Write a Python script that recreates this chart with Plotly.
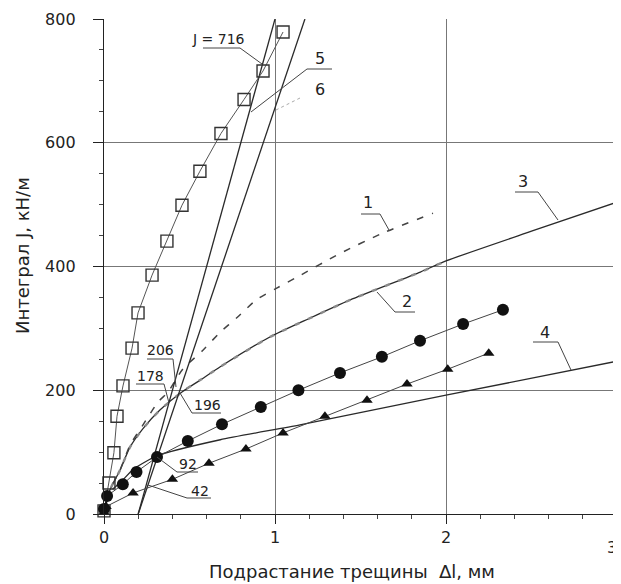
import plotly.graph_objects as go

# ---- data ----
sq_x = [0.0, 0.029, 0.058, 0.076, 0.111, 0.164, 0.199, 0.281, 0.368, 0.456, 0.561, 0.684, 0.819, 0.930, 1.047]
sq_y = [5, 50, 99, 158, 207, 268, 325, 386, 441, 499, 554, 615, 670, 716, 779]

ci_x = [0.0, 0.018, 0.11, 0.19, 0.31, 0.49, 0.69, 0.917, 1.137, 1.38, 1.625, 1.848, 2.10, 2.333]
ci_y = [8, 29, 48, 68, 92, 118, 145, 173, 200, 228, 254, 280, 307, 330]

tr_x = [0.0, 0.012, 0.17, 0.40, 0.614, 0.83, 1.047, 1.292, 1.538, 1.772, 2.01, 2.25]
tr_y = [3, 12, 34, 56, 82, 105, 131, 158, 184, 210, 234, 260]

c1_x = [0.0, 0.035, 0.094, 0.152, 0.228, 0.316, 0.374, 0.46, 0.58, 0.68, 0.78, 0.89, 1.01, 1.13, 1.38, 1.63, 1.924]
c1_y = [0, 39, 71, 111, 144, 181, 197, 234, 265, 294, 318, 346, 365, 383, 421, 454, 486]

c3_x = [0.0, 0.035, 0.094, 0.152, 0.228, 0.327, 0.46, 0.56, 0.68, 0.97, 1.2, 1.44, 1.85, 2.0, 2.5, 3.0]
c3_y = [0, 39, 71, 108, 138, 168, 198, 216, 238, 286, 316, 346, 391, 409, 457, 504]

c2_x = c3_x[:14]
c2_y = c3_y[:14]

c4_x = [0.05, 0.10, 0.17, 0.31, 0.68, 1.146, 2.0, 3.0]
c4_y = [40, 52, 72, 94, 120, 144, 192, 247]

l5_x = [0.2, 1.0]
l5_y = [0, 800]
l6_x = [0.2, 1.175]
l6_y = [0, 800]

x_ticks = [0, 1, 2, 3]
y_ticks = [0, 200, 400, 600, 800]

# ---- figure ----
# the html page has an 8px body margin, so the figure starts at (8, 8)
OFF = 8
W, H = 613, 576
ML, MR, MT, MB = 96, 4, 11, 70
X0, X1 = OFF + ML, OFF + W - MR      # absolute px of x=0 and x=3
YT, YB = OFF + MT, OFF + H - MB      # absolute px of y=800 and y=0
fig = go.Figure()

def P(px, py):
    """absolute pixel position -> data coords (label placement only)"""
    return (px - X0) / (X1 - X0) * 3.0, (YB - py) / (YB - YT) * 800.0

def Q(px, py):
    """absolute pixel position -> paper coords (label placement only)"""
    return (px - X0) / (X1 - X0), (YB - py) / (YB - YT)

ink = "#2a2a2a"
spl = dict(shape="spline", smoothing=0.6)

fig.add_trace(go.Scatter(x=c3_x, y=c3_y, mode="lines", line=dict(color=ink, width=1.3, **spl), hoverinfo="skip"))
fig.add_trace(go.Scatter(x=c2_x, y=c2_y, mode="lines", line=dict(color="#8a8a8a", width=2.4, dash="5px,9px", **spl), hoverinfo="skip"))
fig.add_trace(go.Scatter(x=c1_x, y=c1_y, mode="lines", line=dict(color="#444", width=1.5, dash="7px,9px", **spl), hoverinfo="skip"))
fig.add_trace(go.Scatter(x=c4_x, y=c4_y, mode="lines", line=dict(color=ink, width=1.3, **spl), hoverinfo="skip"))
fig.add_trace(go.Scatter(x=l5_x, y=l5_y, mode="lines", line=dict(color=ink, width=1.3), hoverinfo="skip"))
fig.add_trace(go.Scatter(x=l6_x, y=l6_y, mode="lines", line=dict(color=ink, width=1.3), hoverinfo="skip"))

fig.add_trace(go.Scatter(x=sq_x, y=sq_y, mode="lines+markers", cliponaxis=False,
                         line=dict(color="#555", width=1),
                         marker=dict(symbol="square-open", size=12, color="#333", line=dict(width=1.4))))
fig.add_trace(go.Scatter(x=ci_x, y=ci_y, mode="lines+markers", cliponaxis=False,
                         line=dict(color="#444", width=1),
                         marker=dict(symbol="circle", size=12, color="#111")))
fig.add_trace(go.Scatter(x=tr_x, y=tr_y, mode="lines+markers", cliponaxis=False,
                         line=dict(color="#444", width=1),
                         marker=dict(symbol="triangle-up", size=10, color="#111")))

FONT = "DejaVu Sans, Verdana, sans-serif"

# ---- labels with leader lines (absolute px positions) ----
labels = [
    ("J = 716", (218, 39), [(203, 48), (240, 48), (262, 64)], 14),
    ("5", (320, 58), [(332, 69), (307, 69), (251, 112)], 16),
    ("6", (320, 89), [], 16),
    ("1", (368, 202), [(361, 214), (380, 214), (389, 230)], 16),
    ("3", (523, 181), [(515, 192), (538, 192), (558, 220)], 16),
    ("2", (407, 301), [(415, 312), (395, 312), (377, 292)], 16),
    ("4", (545, 332), [(533, 342), (558, 342), (571, 370)], 16),
    ("206", (160, 350), [(147, 359), (173, 359), (176, 387)], 14),
    ("178", (150, 376), [(136, 384), (164, 384), (169, 403)], 14),
    ("196", (207, 405), [(221, 413), (192, 413), (180, 393)], 14),
    ("92", (188, 464), [(198, 472), (177, 472), (157, 457)], 14),
    ("42", (200, 491), [(211, 498), (187, 498), (148, 485)], 14),
]
for txt, (tx, ty), poly, fs in labels:
    ax_, ay_ = P(tx, ty)
    fig.add_annotation(x=ax_, y=ay_, text=txt, showarrow=False, xanchor="center", yanchor="middle",
                       font=dict(family=FONT, size=fs, color="#222"))
    if poly:
        pts = [P(a, b) for a, b in poly]
        path = "M " + " L ".join(f"{x:.4f},{y:.2f}" for x, y in pts)
        fig.add_shape(type="path", path=path, xref="x", yref="y", line=dict(color="#444", width=1))

# faint leader for 6
x1, y1 = P(300, 98)
x2, y2 = P(276, 110)
fig.add_shape(type="line", x0=x1, y0=y1, x1=x2, y1=y2, xref="x", yref="y",
              line=dict(color="#aaa", width=1, dash="dot"))

# axis titles
tx, ty = Q(352, 571)
fig.add_annotation(xref="paper", yref="paper", x=tx, y=ty, text="Подрастание трещины  \u2206l, мм",
                   showarrow=False, xanchor="center", yanchor="middle",
                   font=dict(family=FONT, size=18, color="#222"))
tx, ty = Q(22, 256)
fig.add_annotation(xref="paper", yref="paper", x=tx, y=ty, text="Интеграл J, кН/м", textangle=-90,
                   showarrow=False, xanchor="center", yanchor="middle",
                   font=dict(family=FONT, size=18, color="#222"))
# last x tick label, placed at the right edge (plotly hides it past the div)
tx, ty = Q(619, 547)
fig.add_annotation(xref="paper", yref="paper", x=tx, y=ty, text=str(x_ticks[-1]),
                   showarrow=False, xanchor="right", yanchor="middle",
                   font=dict(family=FONT, size=16, color="#222"))

fig.update_layout(
    width=W, height=H,
    margin=dict(l=ML, r=MR, t=MT, b=MB),
    paper_bgcolor="white", plot_bgcolor="white",
    showlegend=False,
    font=dict(family=FONT, size=16, color="#222"),
    xaxis=dict(range=[0, 3], tickvals=x_ticks[:-1], ticktext=[str(v) for v in x_ticks[:-1]],
               showgrid=True, gridcolor="#777", gridwidth=1,
               showline=True, linecolor="#222", linewidth=1.4, zeroline=False,
               ticks="outside", ticklen=9, tickcolor="#222",
               minor=dict(dtick=0.2, ticks="outside", ticklen=4, tickcolor="#444", showgrid=False),
               automargin=False, fixedrange=True, tickfont=dict(family=FONT, size=16)),
    yaxis=dict(range=[0, 800], tickvals=y_ticks, ticktext=[str(v) for v in y_ticks],
               showgrid=True, gridcolor="#777", gridwidth=1,
               showline=True, linecolor="#222", linewidth=1.4, zeroline=False,
               ticks="outside", ticklen=10, tickcolor="#222",
               minor=dict(dtick=50, ticks="outside", ticklen=4, tickcolor="#444", showgrid=False),
               ticklabelstandoff=14,
               automargin=False, fixedrange=True, tickfont=dict(family=FONT, size=16)),
)
fig.add_shape(type="line", xref="x", yref="paper", x0=3, x1=3, y0=0, y1=1,
              line=dict(color="#777", width=1))
fig.add_shape(type="line", xref="x", yref="paper", x0=3, x1=3, y0=0, y1=-9 / (YB - YT),
              line=dict(color="#222", width=1))

fig.write_html("out.html")
